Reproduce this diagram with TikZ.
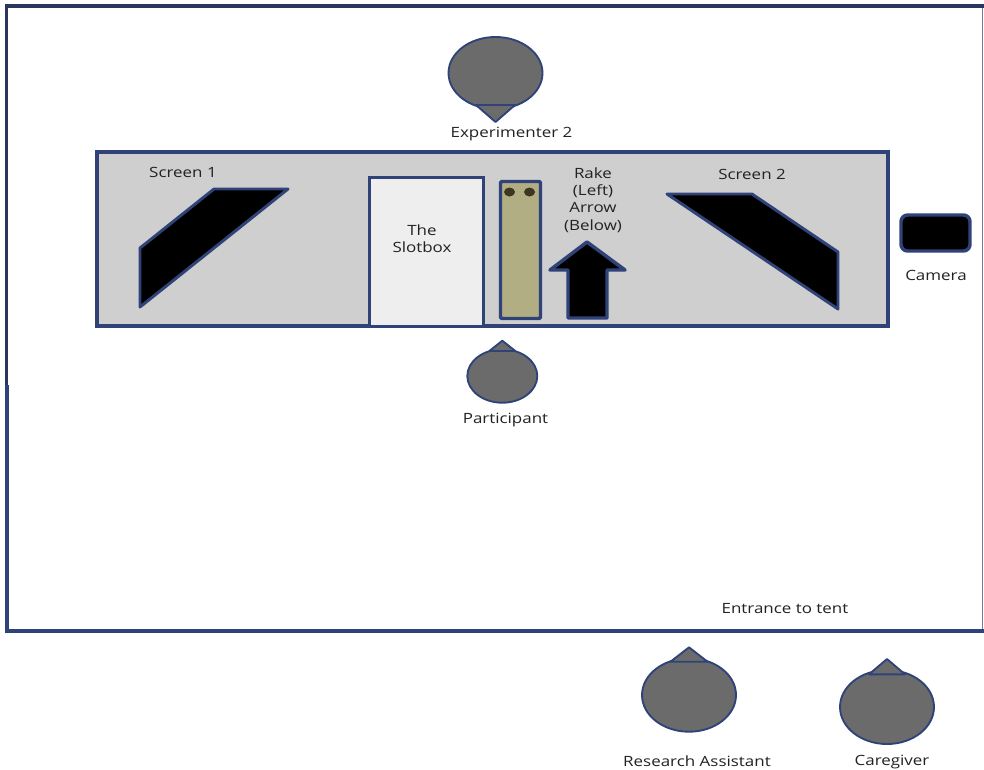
\documentclass[tikz,border=0pt]{standalone}
\usepackage{fontspec}
\setmainfont[FakeStretch=1.2]{Open Sans}
\definecolor{lineblue}{HTML}{2F4379}
\definecolor{linedark}{HTML}{2A3560}
\definecolor{linepale}{HTML}{77799A}
\definecolor{headgray}{HTML}{6B6B6B}
\definecolor{benchgray}{HTML}{CFCFCF}
\definecolor{boxlight}{HTML}{EEEEEE}
\definecolor{rakeolive}{HTML}{B2AE84}
\definecolor{rakedot}{HTML}{3D3620}
\definecolor{labeltext}{HTML}{222222}
\tikzset{
  frame/.style={draw=linedark,line width=2.7pt,line join=miter},
  framelow/.style={draw=lineblue,line width=2.5pt,line join=miter},
  bench/.style={draw=lineblue,line width=2.3pt,fill=benchgray},
  blackshape/.style={draw=lineblue,line width=2.2pt,fill=black,line join=round},
  head/.style={draw=lineblue,line width=1.4pt,fill=headgray,line join=round},
  lbl/.style={font=\fontsize{10.6}{13}\selectfont,text=labeltext,align=center,inner sep=0pt},
}
\newcommand{\person}[7]{% x, centre y, rx, ry, chord y, apex y, half chord
  \draw[head] (#1,#2) ellipse [x radius=#3, y radius=#4];
  \draw[head] (#1-#7,#5) -- (#1,#6) -- (#1+#7,#5) -- cycle;
}
\begin{document}
\begin{tikzpicture}[x=0.75pt,y=-0.75pt]
\useasboundingbox (0,0) rectangle (984,769);
\fill[white] (0,0) rectangle (984,769);
% tent
\draw[draw=linepale,line width=1.4pt] (982.5,6) -- (982.5,631);
\draw[framelow] (7,385) -- (7,631) -- (984,631);
\draw[frame] (6.5,385) -- (6.5,6) -- (984,6);
% table
\draw[bench] (97,152) rectangle (888,326);
% screens
\draw[blackshape] (140,307) -- (140,248) -- (214,189) -- (288,189) -- cycle;
\draw[blackshape] (667,194) -- (752,194) -- (838,252) -- (838,309) -- cycle;
% slotbox
\draw[draw=lineblue,line width=2.25pt,fill=boxlight] (369,326) -- (369,177) -- (483,177) -- (483,326) -- cycle;
% rake
\draw[draw=lineblue,line width=2.6pt,fill=rakeolive,rounded corners=1pt] (500.5,181.5) rectangle (540.5,318.5);
\fill[rakedot] (509.5,192) ellipse [x radius=5.5, y radius=4.5];
\fill[rakedot] (529.5,192) ellipse [x radius=5.5, y radius=4.5];
% arrow
\draw[draw=lineblue,line width=2.6pt,fill=black,line join=round] (568,318) -- (568,270) -- (550,270) -- (587,242) -- (625,270) -- (607,270) -- (607,318) -- cycle;
% camera
\draw[draw=lineblue,line width=2.6pt,fill=black,rounded corners=5pt] (901,215) rectangle (970,251);
% people
\person{495.5}{73}{47}{36}{105}{122}{19.5}
\person{502.3}{376}{35}{26.7}{351}{340.7}{13}
\person{689}{695}{47}{36.7}{661.7}{647.3}{18.5}
\person{887}{707}{47}{37}{674.3}{659}{18}
% labels
\node[lbl] (exp2) at (511.5,134) {Experimenter 2};
\node[lbl] (screen1) at (183,172.5) {Screen 1};
\node[lbl] (screen2) at (752,174) {Screen 2};
\node[lbl] (slotbox) at (422,239) {The\\Slotbox};
\node[lbl] (rakelabel) at (593,200) {Rake\\(Left)\\Arrow\\(Below)};
\node[lbl] (camera) at (936,275) {Camera};
\node[lbl] (part) at (505.5,420) {Participant};
\node[lbl] (entr) at (785,609) {Entrance to tent};
\node[lbl] (ra) at (697,761.5) {Research Assistant};
\node[lbl] (care) at (892,761.5) {Caregiver};
\end{tikzpicture}
\end{document}
